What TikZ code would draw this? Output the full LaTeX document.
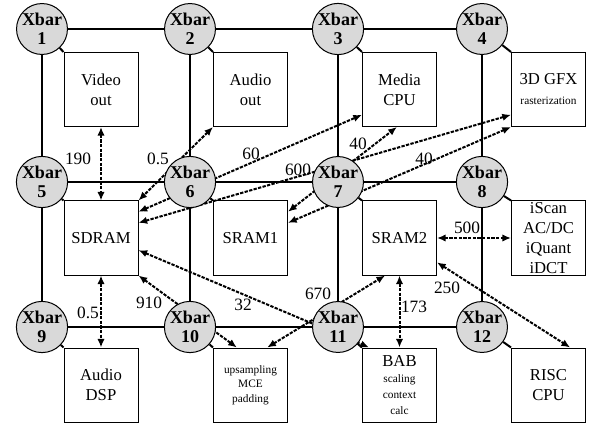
\documentclass[tikz,border=0pt]{standalone}
\usepackage{fontspec}
\setmainfont{Liberation Serif}
\usetikzlibrary{arrows.meta,backgrounds}

\tikzset{every picture/.style={line width=0.75pt}}
\tikzset{
  xbar/.style={circle,draw,fill={rgb,255:red,217;green,217;blue,217},minimum size=36pt,inner sep=0pt,align=center,font=\fontsize{13.5}{14.5}\selectfont\bfseries},
  unit/.style={draw,minimum width=55.5pt,minimum height=55.5pt,inner sep=0pt,align=center,font=\fontsize{12.5}{15}\selectfont},
  bus/.style={line width=1.5pt},
  flow/.style={{Latex[length=6.5pt,width=5.5pt]}-{Latex[length=6.5pt,width=5.5pt]},line width=1.5pt,dash pattern=on 2.5pt off 1pt},
  rate/.style={inner sep=0pt,font=\fontsize{13}{15}\selectfont},
}
\newcommand{\fine}{\fontsize{8.5}{11}\selectfont}

\begin{document}
\begin{tikzpicture}[x=0.75pt,y=0.75pt,yscale=-1,xscale=1]
\useasboundingbox (0,0) rectangle (590,428);

% crossbar switches
\node[xbar] (x1) at (42,29) {Xbar\\1};
\node[xbar] (x2) at (190,29) {Xbar\\2};
\node[xbar] (x3) at (338,29) {Xbar\\3};
\node[xbar] (x4) at (482,29) {Xbar\\4};
\node[xbar] (x5) at (42,182) {Xbar\\5};
\node[xbar] (x6) at (190,182) {Xbar\\6};
\node[xbar] (x7) at (338,182) {Xbar\\7};
\node[xbar] (x8) at (482,182) {Xbar\\8};
\node[xbar] (x9) at (42,327) {Xbar\\9};
\node[xbar] (x10) at (190,327) {Xbar\\10};
\node[xbar] (x11) at (338,327) {Xbar\\11};
\node[xbar] (x12) at (482,327) {Xbar\\12};

% units
\node[unit] (vo) at (101,89.5) {Video\\out};
\node[unit] (ao) at (250.5,89.5) {Audio\\out};
\node[unit] (mc) at (399.5,89.5) {Media\\CPU};
\node[unit] (gfx) at (548.5,89.5) {3D GFX\\{\fine rasterization}};
\node[unit] (sdram) at (101,238) {SDRAM};
\node[unit] (sram1) at (250.5,238) {SRAM1};
\node[unit] (sram2) at (399.5,238) {SRAM2};
\node[unit] (iq) at (548.5,238) {iScan\\AC/DC\\iQuant\\iDCT};
\node[unit] (dsp) at (101,385) {Audio\\DSP};
\node[unit,font=\fine] (mce) at (250.5,385) {upsampling\\MCE\\padding};
\node[unit,font=\fontsize{8.5}{12}\selectfont] (bab) at (399.5,385) {{\fontsize{12.5}{12}\selectfont BAB}\\scaling\\context\\calc};
\node[unit] (risc) at (548.5,385) {RISC\\CPU};

% mesh
\draw[bus] (x1) -- (x2) -- (x3) -- (x4);
\draw[bus] (x5) -- (x6) -- (x7) -- (x8);
\draw[bus] (x9) -- (x10) -- (x11) -- (x12);
\draw[bus] (x1) -- (x5) -- (x9);
\draw[bus] (x2) -- (x6) -- (x10);
\draw[bus] (x3) -- (x7) -- (x11);
\draw[bus] (x4) -- (x8) -- (x12);
\draw[bus] (x1) -- (vo.north west);
\draw[bus] (x2) -- (ao.north west);
\draw[bus] (x3) -- (mc.north west);
\draw[bus] (x4) -- (gfx.north west);
\draw[bus] (x5) -- (sdram.north west);
\draw[bus] (x6) -- (sram1.north west);
\draw[bus] (x7) -- (sram2.north west);
\draw[bus] (x8) -- (iq.north west);
\draw[bus] (x9) -- (dsp.north west);
\draw[bus] (x10) -- (mce.north west);
\draw[bus] (x11) -- (bab.north west);
\draw[bus] (x12) -- (risc.north west);

% traffic
\begin{scope}[on background layer]
\draw[flow] (vo) -- (sdram);
\draw[flow] (ao.south west) -- (sdram.north east);
\draw[flow] (sdram.35) -- (mc.214);
\draw[flow] (sdram.22) -- (gfx.214);
\draw[flow] (sram1.35) -- (mc.266);
\draw[flow] (sram1.22) -- (gfx.south west);
\draw[flow] (sdram.south east) -- (mce.110);
\draw[flow] (sdram.342) -- (bab.129);
\draw[flow] (mce.66) -- (sram2.249);
\draw[flow] (sram2) -- (bab);
\draw[flow] (sram2) -- (iq);
\draw[flow] (sram2.327) -- (risc.60);
\draw[flow] (sdram) -- (dsp);
\end{scope}

\node[rate] (r190) at (78,159) {190};
\node[rate] (r05a) at (158,159) {0.5};
\node[rate] (r60) at (251,154) {60};
\node[rate] (r600) at (298,170) {600};
\node[rate] (r40a) at (358,144) {40};
\node[rate] (r40b) at (424,159) {40};
\node[rate] (r910) at (149,303) {910};
\node[rate] (r32) at (243,305) {32};
\node[rate] (r670) at (318,294) {670};
\node[rate] (r173) at (414,307) {173};
\node[rate] (r500) at (467,228) {500};
\node[rate] (r250) at (447,288) {250};
\node[rate] (r05b) at (88,313) {0.5};
\end{tikzpicture}
\end{document}
